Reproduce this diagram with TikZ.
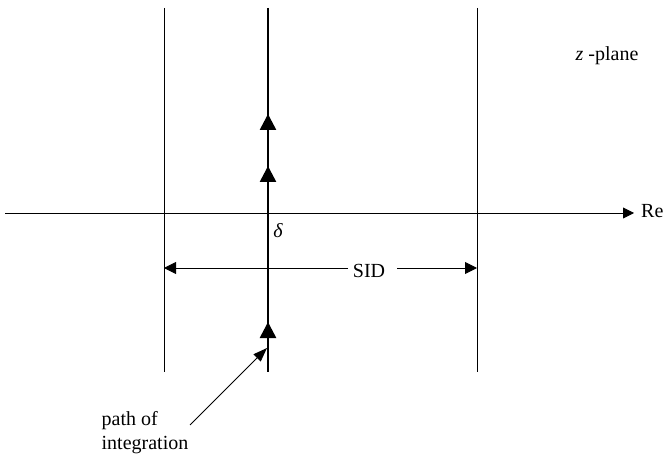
\documentclass[tikz,border=0pt]{standalone}
\usepackage{fontspec}
\setmainfont{Liberation Serif}
\usepackage{tikz}
\usetikzlibrary{arrows.meta,positioning}
\definecolor{ink}{HTML}{000000}

\tikzset{
 thinline/.style={ink,line width=0.9pt},
 pathline/.style={ink,line width=2.6pt},
 smalltip/.style={-{Triangle[length=12pt,width=12pt]}},
 lbl/.style={inner sep=0pt,text=ink}
}

\begin{document}
\begin{tikzpicture}[x=1pt,y=-1pt,font=\fontsize{20}{24}\selectfont]
\useasboundingbox (0,0) rectangle (664,457);
% strip edges and the line of integration
\foreach \name/\xx in {left/164,mid/268,right/477} {
 \coordinate (\name-top) at (\xx,8);
 \coordinate (\name-bot) at (\xx,372);
}
\draw[thinline] (left-top) -- (left-bot);
\draw[thinline] (right-top) -- (right-bot);
\draw[pathline] (mid-top) -- (mid-bot);
% arrowheads along the path
\foreach \i/\y in {1/114,2/166,3/322} {
 \coordinate (head\i) at (268,\y);
 \draw[pathline,-{Triangle[length=16pt,width=16pt]}] ([yshift=-18pt]head\i) -- (head\i);
}
% real axis
\coordinate (axis-start) at (5,213);
\node[lbl,anchor=base west] (re) at (641,218) {Re};
\draw[thinline,-{Triangle[length=11pt,width=11pt]}] (axis-start) -- (axis-start -| 634,0);
\node[lbl,anchor=base] (delta) at (278,237) {\itshape δ};
\node[lbl,anchor=base] (plane) at (607,61) {\textit{z} -plane};
% width of the strip
\node[lbl,anchor=base] (sid) at (369,277) {SID};
\coordinate (sid-l) at (348,268);
\coordinate (sid-r) at (397,268);
\draw[thinline,smalltip] (sid-l) -- (left-bot |- sid-l);
\draw[thinline,smalltip] (sid-r) -- (right-bot |- sid-r);
% pointer to the path
\node[lbl,align=left] (pathlbl) at (145,433) {path of\\integration};
\coordinate (note-start) at (190,425);
\coordinate (note-tip) at (267,348);
\draw[thinline,-{Triangle[length=14pt,width=10pt]}] (note-start) -- (note-tip);
\end{tikzpicture}
\end{document}
